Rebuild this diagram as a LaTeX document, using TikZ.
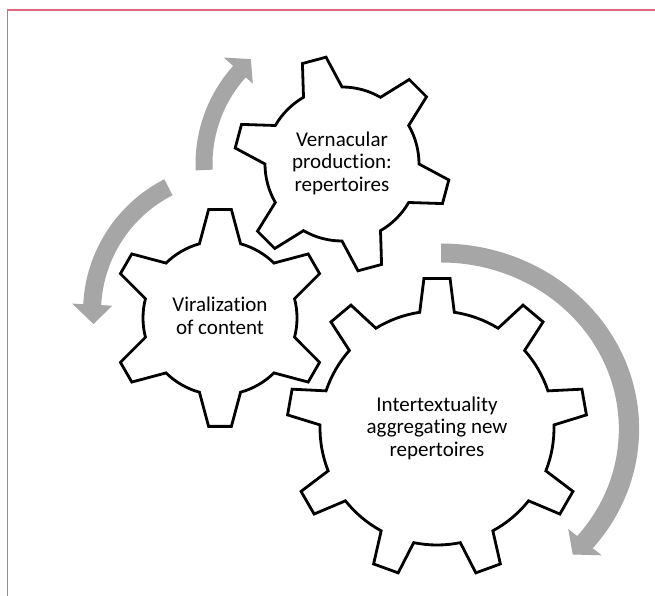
\documentclass[tikz,border=0pt]{standalone}
\usepackage{fontspec}
\setmainfont{Carlito}[Ligatures=NoCommon]
\usetikzlibrary{calc}
\definecolor{arrowgray}{RGB}{166,166,166}
\definecolor{framepink}{RGB}{224,104,124}
\tikzset{
 gearline/.style={draw=black, line width=2.8pt, fill=white, line join=miter},
 geartext/.style={align=center, font=\fontsize{21}{22.5}\selectfont, text=black, inner sep=0pt},
 arrowbody/.style={fill=arrowgray, draw=none},
 frameline/.style={draw=framepink, line width=1.6pt}
}
\begin{document}
\begin{tikzpicture}[x=1pt,y=1pt]
\useasboundingbox (0,0) rectangle (655,596);
\draw[frameline] (7.5,0) -- (7.5,586) -- (655,586);

% curved arrows
\begin{scope}[shift={(342,432)}]
\fill[arrowbody] (182.5:146.5) arc[start angle=182.5,end angle=138,radius=146.5] -- (138:159) -- (131:139) -- (138:120) -- (138:129.5) arc[start angle=138,end angle=182.5,radius=129.5] -- cycle;
\end{scope}
\begin{scope}[shift={(232,284)}]
\fill[arrowbody] (117:149) arc[start angle=117,end angle=177,radius=149] -- (177:160) -- (185:139) -- (177:120) -- (177:131) arc[start angle=177,end angle=117,radius=131] -- cycle;
\end{scope}
\begin{scope}[shift={(441,167)},xscale=1.068]
\fill[arrowbody] (90:185.5) arc[start angle=90,end angle=-40,radius=185.5] -- (-40:196.5) -- (-45.5:176) -- (-40:155.5) -- (-40:166.5) arc[start angle=-40,end angle=90,radius=166.5] -- cycle;
\end{scope}

% gear: Intertextuality (9 teeth)
\begin{scope}[shift={(437,168)}]
\draw[gearline] (70:117) \foreach \a in {90,130,...,410} { arc[start angle=\a-20,end angle=\a-8.5,radius=117] -- (\a-5:150) -- (\a+5:150) -- (\a+8.5:117) arc[start angle=\a+8.5,end angle=\a+20,radius=117] } -- cycle;
\end{scope}
% gear: Vernacular (6 teeth)
\begin{scope}[shift={(342,432)}]
\draw[gearline] (15:77) \foreach \a in {45,105,...,345} { arc[start angle=\a-30,end angle=\a-15,radius=77] -- (\a-6.5:108) -- (\a+6.5:108) -- (\a+15:77) arc[start angle=\a+15,end angle=\a+30,radius=77] } -- cycle;
\end{scope}
% gear: Viralization (6 teeth)
\begin{scope}[shift={(220,278)}]
\draw[gearline] (0:77) \foreach \a in {30,90,...,330} { arc[start angle=\a-30,end angle=\a-15.5,radius=77] -- (\a-6:109) -- (\a+6:109) -- (\a+15.5:77) arc[start angle=\a+15.5,end angle=\a+30,radius=77] } -- cycle;
\end{scope}

\node[geartext] (vern) at (342,433) {Vernacular\\production:\\repertoires};
\node[geartext] (viral) at (220,280) {Viralization\\of content};
\node[geartext] (inter) at (437,168) {Intertextuality\\aggregating new\\repertoires};
\end{tikzpicture}
\end{document}
